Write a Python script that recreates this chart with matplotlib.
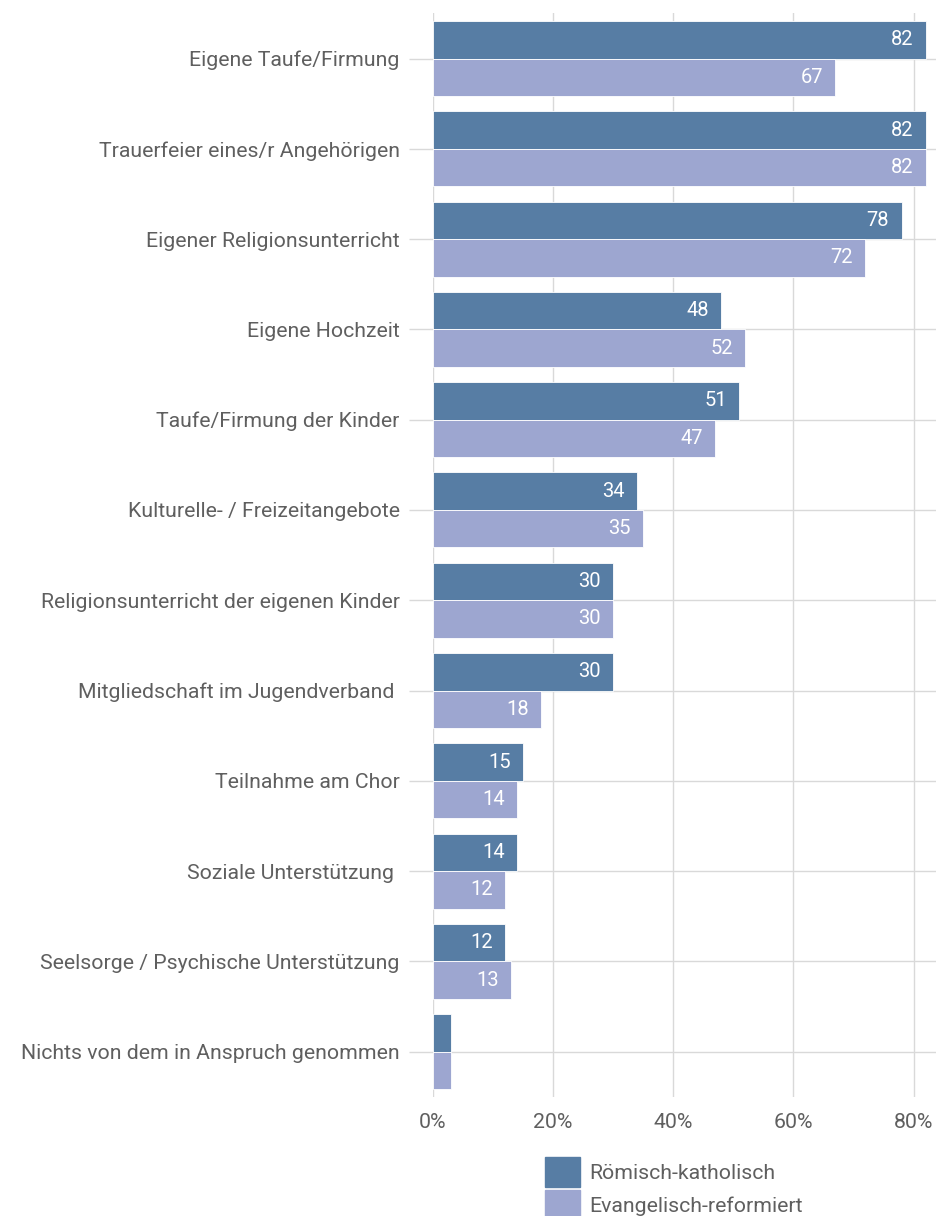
""" Grouped horizontal bars: church offers used, by confession """

import numpy as np
import matplotlib.pyplot as plt
from matplotlib.patches import Patch

plt.rcParams['font.family'] = ['Roboto', 'DejaVu Sans']

# Data
categories = [
    "Eigene Taufe/Firmung",
    "Trauerfeier eines/r Angehörigen",
    "Eigener Religionsunterricht",
    "Eigene Hochzeit",
    "Taufe/Firmung der Kinder",
    "Kulturelle- / Freizeitangebote",
    "Religionsunterricht der eigenen Kinder",
    "Mitgliedschaft im Jugendverband ",
    "Teilnahme am Chor",
    "Soziale Unterstützung ",
    "Seelsorge / Psychische Unterstützung",
    "Nichts von dem in Anspruch genommen",
]
katholisch = [82, 82, 78, 48, 51, 34, 30, 30, 15, 14, 12, 3]
reformiert = [67, 82, 72, 52, 47, 35, 30, 18, 14, 12, 13, 3]
series_names = ["Römisch-katholisch", "Evangelisch-reformiert"]
x_ticks = [0, 20, 40, 60, 80]
x_ticklabels = ["0%", "20%", "40%", "60%", "80%"]

col_kath = "#577da4"
col_ref = "#9da6d0"
grid_col = "#d9d9d9"
text_col = "#5f5f5f"
fs = 15.3

fig = plt.figure(figsize=(9.37, 12.16), dpi=100)
ax = fig.add_axes([0.462, 0.098, 0.538, 0.891])

y = np.arange(len(categories))
h = 0.415
ax.barh(y - h / 2, katholisch, height=h, color=col_kath, edgecolor="white",
        linewidth=0.6, zorder=2)
ax.barh(y + h / 2, reformiert, height=h, color=col_ref, edgecolor="white",
        linewidth=0.6, zorder=2)

# value labels inside bar ends (skip the tiny ones)
for yy, v in zip(y, katholisch):
    if v >= 10:
        ax.annotate(str(v), (v, yy - h / 2), xytext=(-9, 0), textcoords="offset points",
                    ha="right", va="center", color="white", fontsize=14.5, zorder=3)
for yy, v in zip(y, reformiert):
    if v >= 10:
        ax.annotate(str(v), (v, yy + h / 2), xytext=(-9, 0), textcoords="offset points",
                    ha="right", va="center", color="white", fontsize=14.5, zorder=3)

ax.set_xlim(0, 83.9)
ax.set_ylim(len(categories) - 0.5, -0.5)
ax.set_yticks(y)
ax.set_yticklabels(categories, fontsize=fs, color=text_col)
ax.set_xticks(x_ticks)
ax.set_xticklabels(x_ticklabels, fontsize=fs, color=text_col)
ax.tick_params(axis="y", length=17, color=grid_col, width=1, pad=7)
ax.tick_params(axis="x", length=0, pad=12)
for s in ax.spines.values():
    s.set_visible(False)
ax.grid(True, color=grid_col, linewidth=1)
ax.set_axisbelow(True)

handles = [Patch(color=col_kath), Patch(color=col_ref)]
fig.legend(handles, series_names, loc="upper left", bbox_to_anchor=(0.5816, 0.0485),
           frameon=False, fontsize=fs, labelcolor=text_col, handlelength=1.65,
           handleheight=1.78, labelspacing=0.14, handletextpad=0.45, borderpad=0,
           borderaxespad=0)

plt.savefig("out.png", dpi=100)
